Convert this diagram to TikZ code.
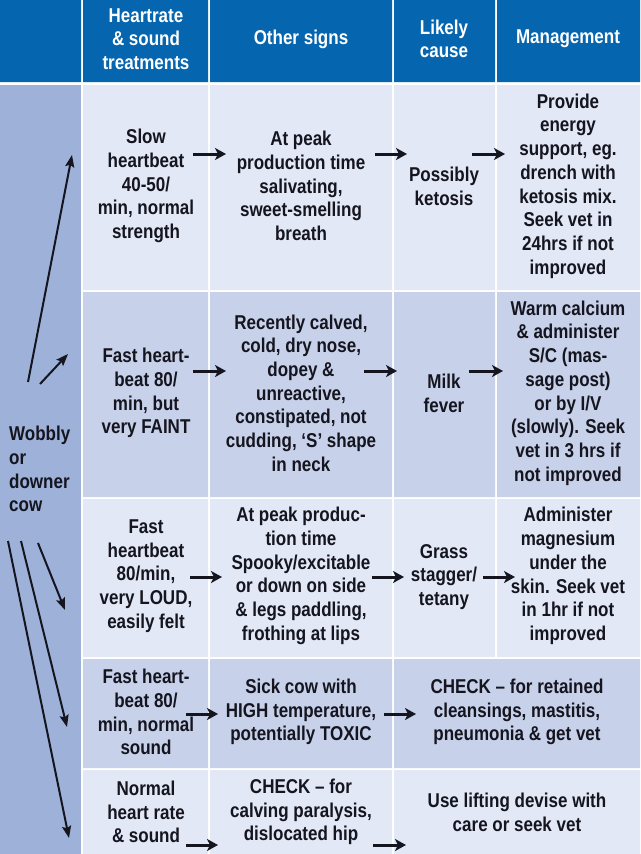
\documentclass[tikz,border=0pt]{standalone}
\usepackage{fontspec}
\setmainfont{Liberation Sans}[FakeStretch=0.85]
\usetikzlibrary{arrows.meta}
\definecolor{headblue}{HTML}{0565AF}
\definecolor{sideblue}{HTML}{9DB1D9}
\definecolor{rowlight}{HTML}{E2E8F5}
\definecolor{rowdark}{HTML}{C8D1EA}
\definecolor{ink}{HTML}{15151F}
\newcommand{\cellfont}{\fontsize{20}{23.7}\selectfont\bfseries}

\begin{document}
\begin{tikzpicture}[x=1pt,y=-1pt,
    cell/.style = {align=center, text=ink, font=\cellfont, inner sep=0pt},
    head/.style = {cell, text=white},
    arr/.style = {draw=ink, line width=3pt, -{Stealth[length=11pt,width=12pt,inset=3pt]}},
    slant/.style = {draw=ink, line width=2pt, -{Stealth[length=12pt,width=9pt,inset=2pt]}}]
    \useasboundingbox (0,0) rectangle (640,854);
    \fill[white] (0,0) rectangle (640,854);

    \fill[headblue] (0,0) rectangle (81,82) (83,0) rectangle (208,82)
        (210,0) rectangle (392,82) (394,0) rectangle (495,82) (497,0) rectangle (640,82);
    \fill[sideblue] (0,85) rectangle (81,854);
    \fill[rowlight] (83,85) rectangle (208,290) (210,85) rectangle (392,290)
        (394,85) rectangle (495,290) (497,85) rectangle (640,290);
    \fill[rowdark] (83,292) rectangle (208,497) (210,292) rectangle (392,497)
        (394,292) rectangle (495,497) (497,292) rectangle (640,497);
    \fill[rowlight] (83,499) rectangle (208,657) (210,499) rectangle (392,657)
        (394,499) rectangle (495,657) (497,499) rectangle (640,657);
    \fill[rowdark] (83,659) rectangle (208,768) (210,659) rectangle (392,768)
        (394,659) rectangle (640,768);
    \fill[rowlight] (83,770) rectangle (208,854) (210,770) rectangle (392,854)
        (394,770) rectangle (640,854);

    \node[head] (h1) at (146,39) {Heartrate\\\& sound\\treatments};
    \node[head] (h2) at (301,39) {Other signs};
    \node[head] (h3) at (444,39) {Likely\\cause};
    \node[head] (h4) at (568,39) {Management};

    \node[cell, align=left, anchor=west] (cow) at (9,469) {Wobbly\\or\\downer\\cow};

    \node[cell] (r1c1) at (146,186) {Slow\\heartbeat\\40-50/\\min, normal\\strength};
    \node[cell] (r1c2) at (301,186) {At peak\\production time\\salivating,\\sweet-smelling\\breath};
    \node[cell] (r1c3) at (444,186) {Possibly\\ketosis};
    \node[cell] (r1c4) at (568,186) {Provide\\energy\\support, eg.\\drench with\\ketosis mix.\\Seek vet in\\24hrs if not\\improved};

    \node[cell] (r2c1) at (146,393) {Fast heart-\\beat 80/\\min, but\\very FAINT};
    \node[cell] (r2c2) at (301,393) {Recently calved,\\cold, dry nose,\\dopey \&\\unreactive,\\constipated, not\\cudding, `S' shape\\in neck};
    \node[cell] (r2c3) at (444,393) {Milk\\fever};
    \node[cell] (r2c4) at (568,393) {Warm calcium\\\& administer\\S/C (mas-\\sage post)\\or by I/V\\(slowly). Seek\\vet in 3 hrs if\\not improved};

    \node[cell] (r3c1) at (146,576) {Fast\\heartbeat\\80/min,\\very LOUD,\\easily felt};
    \node[cell] (r3c2) at (301,576) {At peak produc-\\tion time\\Spooky/excitable\\or down on side\\\& legs paddling,\\frothing at lips};
    \node[cell] (r3c3) at (444,577) {Grass\\stagger/\\tetany};
    \node[cell] (r3c4) at (568,576) {Administer\\magnesium\\under the\\skin. Seek vet\\in 1hr if not\\improved};

    \node[cell] (r4c1) at (146,712) {Fast heart-\\beat 80/\\min, normal\\sound};
    \node[cell] (r4c2) at (301,712) {Sick cow with\\HIGH temperature,\\potentially TOXIC};
    \node[cell] (r4c3) at (517,712) {CHECK -- for retained\\cleansings, mastitis,\\pneumonia \& get vet};

    \node[cell] (r5c1) at (146,812) {Normal\\heart rate\\\& sound};
    \node[cell] (r5c2) at (301,812) {CHECK -- for\\calving paralysis,\\dislocated hip};
    \node[cell] (r5c3) at (517,812) {Use lifting devise with\\care or seek vet};

    \coordinate (r1a) at (193,154); \coordinate (r1b) at (226,154);
    \coordinate (r1c) at (375,154); \coordinate (r1d) at (407,154);
    \coordinate (r1e) at (472,154); \coordinate (r1f) at (505,154);
    \coordinate (r2a) at (193,371); \coordinate (r2b) at (226,371);
    \coordinate (r2c) at (364,371); \coordinate (r2d) at (397,371);
    \coordinate (r2e) at (469,371); \coordinate (r2f) at (503,371);
    \coordinate (r3a) at (190,577); \coordinate (r3b) at (222,577);
    \coordinate (r3c) at (372,577); \coordinate (r3d) at (404,577);
    \coordinate (r3e) at (483,577); \coordinate (r3f) at (515,577);
    \coordinate (r4a) at (186,714); \coordinate (r4b) at (218,714);
    \coordinate (r4c) at (384,714); \coordinate (r4d) at (416,714);
    \coordinate (r5a) at (186,845); \coordinate (r5b) at (218,845);
    \coordinate (r5c) at (373,845); \coordinate (r5d) at (406,845);

    \draw[arr] (r1a) -- (r1b);
    \draw[arr] (r1c) -- (r1d);
    \draw[arr] (r1e) -- (r1f);
    \draw[arr] (r2a) -- (r2b);
    \draw[arr] (r2c) -- (r2d);
    \draw[arr] (r2e) -- (r2f);
    \draw[arr] (r3a) -- (r3b);
    \draw[arr] (r3c) -- (r3d);
    \draw[arr] (r3e) -- (r3f);
    \draw[arr] (r4a) -- (r4b);
    \draw[arr] (r4c) -- (r4d);
    \draw[arr] (r5a) -- (r5b);
    \draw[arr] (r5c) -- (r5d);

    \coordinate (s1) at (28,382); \coordinate (t1) at (72,155);
    \coordinate (s2) at (40,384); \coordinate (t2) at (68,354);
    \coordinate (s3) at (38,543); \coordinate (t3) at (65,610);
    \coordinate (s4) at (21,541); \coordinate (t4) at (67,727);
    \coordinate (s5) at (8,541);  \coordinate (t5) at (69,838);

    \draw[slant] (s1) -- (t1);
    \draw[slant] (s2) -- (t2);
    \draw[slant] (s3) -- (t3);
    \draw[slant] (s4) -- (t4);
    \draw[slant] (s5) -- (t5);
\end{tikzpicture}
\end{document}
